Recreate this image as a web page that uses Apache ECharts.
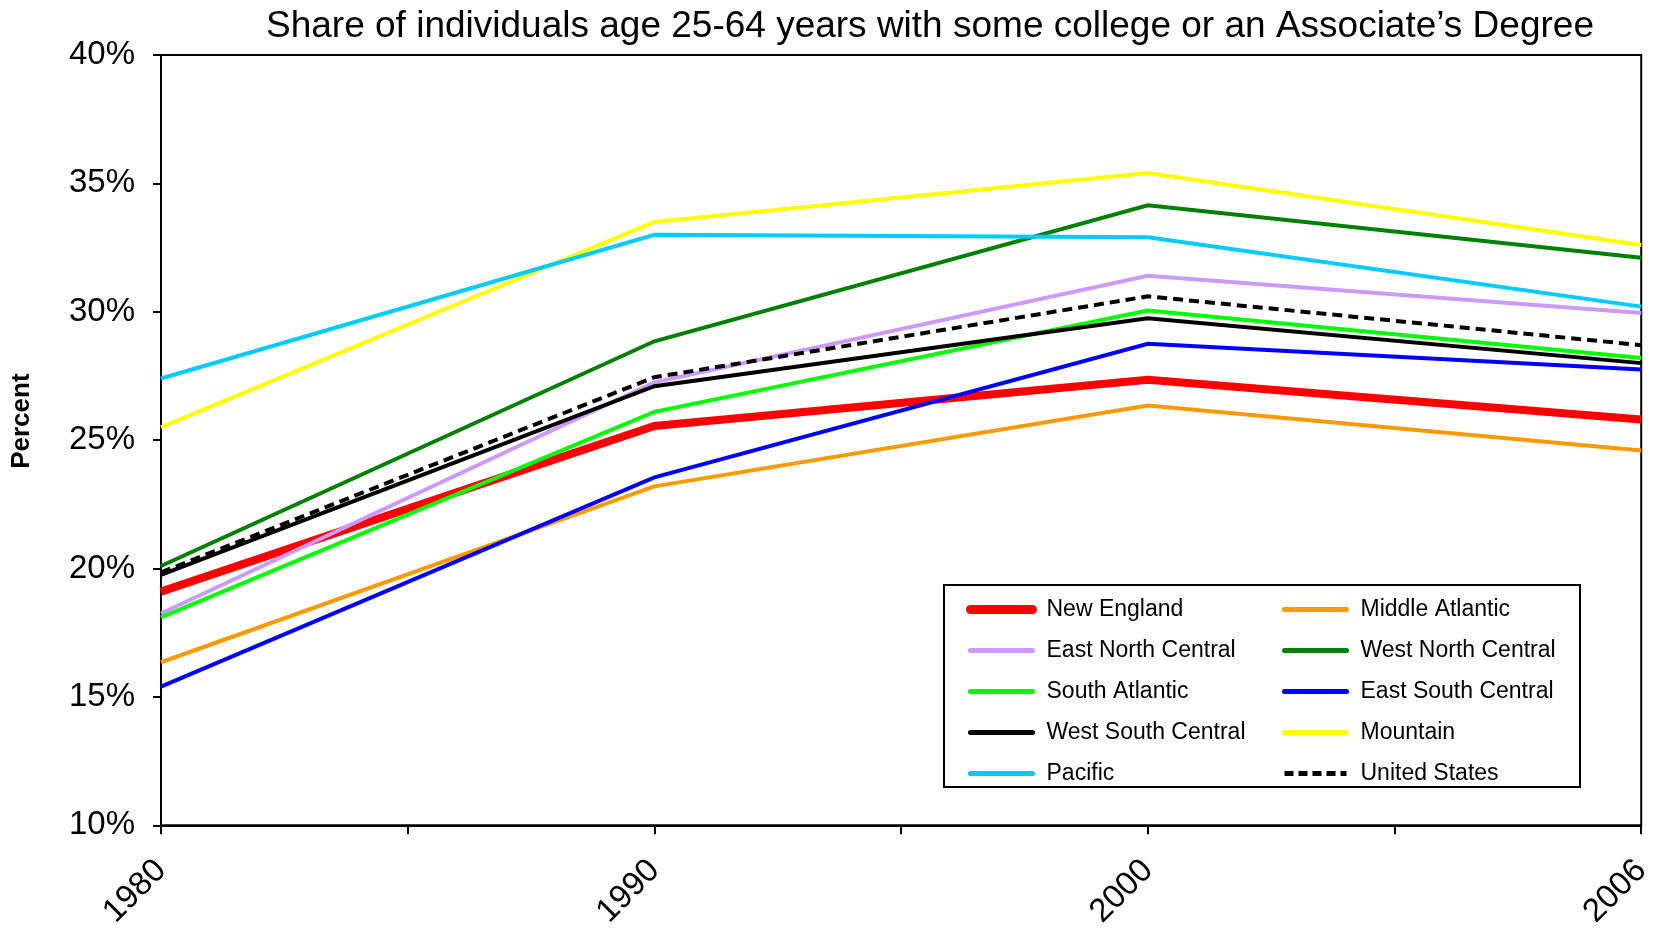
<!DOCTYPE html>
<html><head><meta charset="utf-8">
<script src="https://cdn.jsdelivr.net/npm/echarts@6/dist/echarts.min.js"></script>
<style>html,body{margin:0;padding:0;background:#fff}#c{width:1655px;height:931px}</style>
</head><body><div id="c"></div>
<script>
const years = ['1980', '1990', '2000', '2006'];
const yTicks = [10, 15, 20, 25, 30, 35, 40];
const newEngland       = [19.1, 25.55, 27.35, 25.8];
const middleAtlantic   = [16.35, 23.2, 26.35, 24.6];
const eastNorthCentral = [18.25, 27.25, 31.4, 29.95];
const westNorthCentral = [20.1, 28.85, 34.15, 32.1];
const southAtlantic    = [18.1, 26.1, 30.05, 28.2];
const eastSouthCentral = [15.4, 23.55, 28.75, 27.75];
const westSouthCentral = [19.75, 27.1, 29.75, 28.0];
const mountain         = [25.5, 33.5, 35.4, 32.6];
const pacific          = [27.4, 33.0, 32.9, 30.2];
const unitedStates     = [19.85, 27.45, 30.6, 28.7];

const names = ['New England','Middle Atlantic','East North Central','West North Central','South Atlantic','East South Central','West South Central','Mountain','Pacific','United States'];
const values = [newEngland,middleAtlantic,eastNorthCentral,westNorthCentral,southAtlantic,eastSouthCentral,westSouthCentral,mountain,pacific,unitedStates];
const colors = ['#FF0000','#FF9900','#CC99FF','#008000','#00FF00','#0000FF','#000000','#FFFF00','#00CCFF','#000000'];
const widths = [8,4,4,4,4,4,4,4,4,4];
const legendWidths = [9,5,5,5,5,5,5,5,5,5];

const series = names.map((n,i)=>({
  name:n, type:'line', symbol:'none', animation:false,
  data: values[i].map((v,k)=>[k,v]),
  lineStyle:{color:colors[i], width:widths[i], type: i===9 ? [10,6] : 'solid', cap:'butt', join:'miter'},
  itemStyle:{color:colors[i]}
}));

const font = 'Liberation Sans, Arial, sans-serif';
const legendText = {fontFamily:font, fontSize:23, color:'#000', padding:[0,0,0,9]};
const legendBase = {orient:'vertical', top:598, itemWidth:62, itemHeight:24, itemGap:18, textStyle:legendText, selectedMode:false, padding:0,
  itemStyle:{color:'rgba(0,0,0,0)', borderWidth:0, opacity:0}};
const legendItems = names.map((n,i)=>({name:n, lineStyle:{width:legendWidths[i], cap: i===9 ? 'butt' : 'round', type: i===9 ? [9,5] : 'solid', color:colors[i]}}));
const chart = echarts.init(document.getElementById('c'));
chart.setOption({
  animation:false,
  title:{text:'Share of individuals age 25-64 years with some college or an Associate\u2019s Degree',
    left:925, textAlign:'center', top:3,
    textStyle:{fontFamily:font, fontSize:37, fontWeight:'normal', color:'#000'}},
  grid:{left:161, right:13, top:55, bottom:104, show:true, borderColor:'#000', borderWidth:2, backgroundColor:'transparent'},
  xAxis:{type:'value', min:0, max:years.length-1, interval:0.5,
    axisLine:{show:true, onZero:false, lineStyle:{color:'#000', width:2}},
    axisTick:{show:true, length:9, lineStyle:{color:'#000', width:2}},
    splitLine:{show:false},
    axisLabel:{rotate:45, margin:40, fontFamily:font, fontSize:33, color:'#000',
      formatter:v=> Number.isInteger(v) ? years[v] : '', showMinLabel:true, showMaxLabel:true}},
  yAxis:{type:'value', min:yTicks[0], max:yTicks[yTicks.length-1], interval:5,
    name:'Percent', nameLocation:'middle', nameGap:126, nameRotate:90,
    nameTextStyle:{fontFamily:font, fontSize:26, fontWeight:'bold', color:'#000', padding:[0,0,0,38]},
    axisLine:{show:true, lineStyle:{color:'#000', width:2}},
    axisTick:{show:true, length:8, lineStyle:{color:'#000', width:2}},
    splitLine:{show:false},
    axisLabel:{margin:26, fontFamily:font, fontSize:33, color:'#000', formatter:'{value}%'}},
  legend:[
    Object.assign({left:966, data:legendItems.filter((_,i)=>i%2===0)}, legendBase),
    Object.assign({left:1282, data:legendItems.filter((_,i)=>i%2===1)}, legendBase)
  ],
  graphic:[{type:'rect', shape:{x:944, y:585, width:636, height:202}, style:{fill:'#fff', stroke:'#000', lineWidth:2}, z:-1}],
  series:series
});
</script></body></html>
